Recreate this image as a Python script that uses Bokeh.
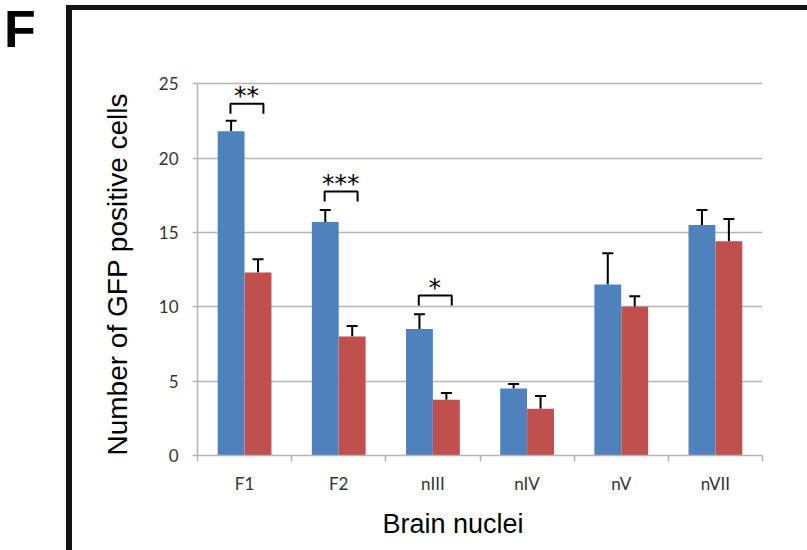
import numpy as np
from bokeh.plotting import figure
from bokeh.layouts import row
from bokeh.models import (Range1d, FixedTicker, Whisker, ColumnDataSource, Title, TeeHead, Div)
from bokeh.embed import file_html
from bokeh.resources import INLINE
from bokeh.core.properties import value

# ---- data ----
categories = ["F1", "F2", "nIII", "nIV", "nV", "nVII"]
blue_values = [21.8, 15.7, 8.5, 4.5, 11.5, 15.5]
blue_errors = [0.7, 0.8, 1.0, 0.3, 2.1, 1.0]
red_values = [12.3, 8.0, 3.75, 3.15, 10.0, 14.4]
red_errors = [0.9, 0.7, 0.45, 0.85, 0.7, 1.5]
y_ticks = [0, 5, 10, 15, 20, 25]
sig_categories = ["F1", "F2", "nIII"]
sig_labels = ["**", "***", "*"]
sig_heights = [23.65, 17.75, 10.75]
y_label = "Number of GFP positive cells"
x_label = "Brain nuclei"
panel_letter = "F"

BLUE = "#4F81BD"
RED = "#C0504D"
GRID = "#b5b5b5"
FRAME = "#141414"

n = len(categories)
centers = np.arange(n) + 0.5
bounds = list(np.arange(n + 1).astype(float))
bw = 0.285
off = 0.143

# ---- panel letter ----
letter = Div(text=('<div style="font-family: \'Liberation Sans\', Arial, sans-serif; '
                   'font-size: 52px; font-weight: bold; line-height: 52px; color: black; '
                   'margin: 3px 0 0 4px; padding: 0;">' + panel_letter + '</div>'),
             width=66, height=550, margin=0)

# ---- main chart ----
p = figure(width=741, height=550, x_range=Range1d(0, n), y_range=Range1d(0, 27.5),
           output_backend="svg", toolbar_location=None,
           min_border_left=131, min_border_right=45, min_border_top=46, min_border_bottom=95)
p.outline_line_color = None
p.background_fill_color = "white"
p.border_fill_color = None
p.styles = {
    "background-image": f"linear-gradient({FRAME},{FRAME}), linear-gradient({FRAME},{FRAME})",
    "background-size": "6px 100%, 100% 5px",
    "background-position": "0px 5px, 0px 5px",
    "background-repeat": "no-repeat",
    "background-color": "white",
}

# bars
p.vbar(x=centers - off, top=blue_values, width=bw, fill_color=BLUE, line_color=None)
p.vbar(x=centers + off, top=red_values, width=bw, fill_color=RED, line_color=None)

# error bars (upper only)
for xs, vals, errs in ((centers - off, blue_values, blue_errors),
                       (centers + off, red_values, red_errors)):
    src = ColumnDataSource(dict(x=xs, lo=vals, hi=np.array(vals) + np.array(errs)))
    w = Whisker(base="x", lower="lo", upper="hi", source=src, dimension="height",
                line_color="black", line_width=2,
                upper_head=TeeHead(size=11, line_color="black", line_width=2),
                lower_head=None)
    p.add_layout(w)

# significance brackets
sig_x = np.array([categories.index(c) + 0.5 for c in sig_categories])
sig_h = np.array(sig_heights)
leg = 0.67
xs_br = [[x - 0.15, x - 0.15, x + 0.2, x + 0.2] for x in sig_x]
ys_br = [[h - leg, h, h, h - leg] for h in sig_h]
p.multi_line(xs_br, ys_br, line_color="black", line_width=2)
p.text(x=sig_x + 0.02, y=sig_h - 0.45, text=sig_labels, text_font=value("DejaVu Sans"),
       text_font_size="25px", text_align="center", text_baseline="bottom", text_color="black")

# axes
xa = p.xaxis[0]
xa.ticker = FixedTicker(ticks=list(centers), minor_ticks=bounds)
xa.major_label_overrides = {float(c): lab for c, lab in zip(centers, categories)}
xa.major_tick_out = 0
xa.major_tick_in = 0
xa.minor_tick_out = 6
xa.minor_tick_in = 0
xa.minor_tick_line_color = GRID
xa.minor_tick_line_width = 1.5
xa.axis_line_color = GRID
xa.axis_line_width = 1.5
xa.major_label_standoff = 11
xa.major_label_text_font = "Lato"
xa.major_label_text_font_size = "17px"
xa.major_label_text_color = "#333333"

ya = p.yaxis[0]
ya.ticker = FixedTicker(ticks=y_ticks)
ya.bounds = (0, 25)
ya.major_tick_out = 5
ya.major_tick_in = 0
ya.minor_tick_out = 0
ya.minor_tick_in = 0
ya.major_tick_line_color = GRID
ya.major_tick_line_width = 1.5
ya.axis_line_color = GRID
ya.axis_line_width = 1.5
ya.major_label_standoff = 14
ya.major_label_text_font = "Lato"
ya.major_label_text_font_size = "17px"
ya.major_label_text_color = "#333333"

p.xgrid.visible = False
p.ygrid.ticker = FixedTicker(ticks=y_ticks)
p.ygrid.grid_line_color = GRID
p.ygrid.grid_line_width = 1.5

# axis titles
p.add_layout(Title(text=y_label, align="left", offset=0, standoff=46,
                   text_font="Liberation Sans", text_font_size="28px",
                   text_font_style="normal", text_color="black"), "left")
p.add_layout(Title(text=x_label, align="left", offset=185, standoff=21,
                   text_font="Liberation Sans", text_font_size="27px",
                   text_font_style="normal", text_color="black"), "below")

layout = row(letter, p, spacing=0)
open("out.html", "w").write(file_html(layout, INLINE))
